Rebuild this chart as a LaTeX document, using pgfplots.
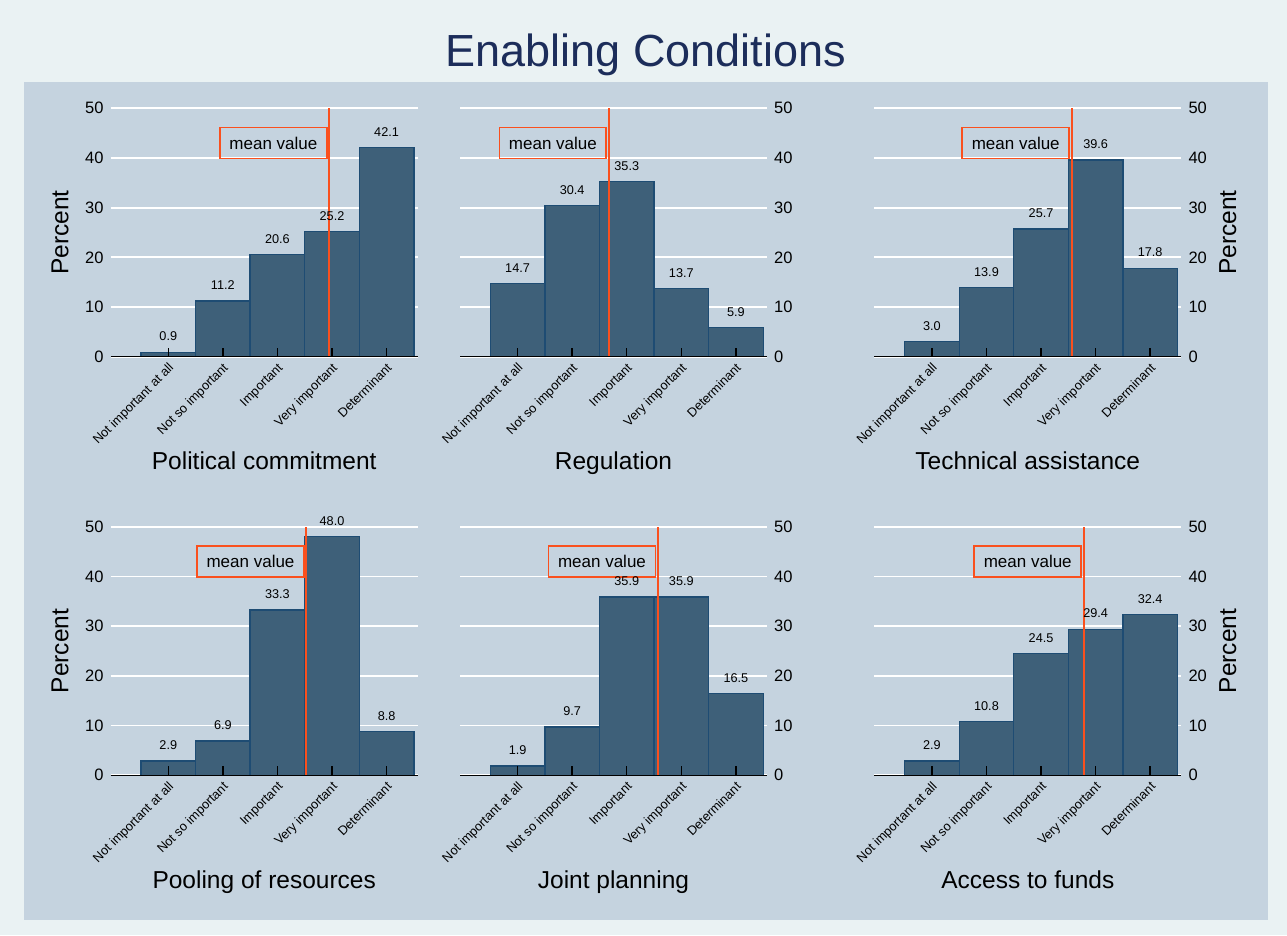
\documentclass[border=0pt]{standalone}
\usepackage{fontspec}
\setmainfont{Liberation Sans}
\usepackage{pgfplots}
\pgfplotsset{compat=1.18}

\definecolor{outerbg}{RGB}{234,242,243}
\definecolor{innerbg}{RGB}{197,211,223}
\definecolor{barfill}{RGB}{62,96,121}
\definecolor{baredge}{RGB}{30,76,115}
\definecolor{meanred}{RGB}{250,80,30}
\definecolor{titleblue}{RGB}{28,45,90}

\newcommand\fs[1]{\fontsize{#1}{#1}\selectfont}

\pgfplotsset{
  /pgf/number format/assume math mode=true,
  panel/.style={scale only axis, width=307pt, height=248.4pt,
    xmin=-0.055, xmax=5.57, ymin=0, ymax=50, anchor=south west},
  gridpanel/.style={panel, axis line style={draw=none}, xtick=\empty,
    ytick={0,10,...,50}, ymajorgrids, major grid style={white, line width=1.7pt},
    tick style={draw=none}, major tick length=0pt,
    yticklabel style={font=\fs{16.5}, inner xsep=7pt},
    ylabel style={font=\fs{24.5}}},
  % ylabel is rotated by 90, so its yshift moves it sideways
  leftp/.style={gridpanel, yticklabel pos=left,
    ylabel style={at={(axis description cs:0,0.5)}, anchor=center, yshift=50.7pt}},
  rightp/.style={gridpanel, yticklabel pos=right,
    ylabel style={at={(axis description cs:1,0.5)}, anchor=center, yshift=-46.5pt}},
  barpanel/.style={panel, axis on top, hide y axis, axis x line*=bottom,
    x axis line style={black, line width=1.5pt, -},
    xtick={1,...,5},
    xticklabels={Not important at all, Not so important, Important, Very important, Determinant},
    tick align=inside, major tick length=9pt, xtick style={black, line width=1.5pt},
    xticklabel style={font=\fs{12.8}, xshift=6pt, yshift=-12pt, rotate=45, anchor=base east, inner sep=0pt},
    xlabel style={at={(axis description cs:0.5,0)}, anchor=base, yshift=-113.3pt, font=\fs{24.5}}},
  bars/.style={ybar, bar width=1, fill=barfill, draw=baredge, line width=1.3pt,
    nodes near coords={\pgfmathprintnumber[fixed, fixed zerofill, precision=1]{\pgfplotspointmeta}},
    every node near coord/.append style={font=\fs{12.7}, anchor=south, inner sep=0pt, yshift=10.5pt, text=black}},
  meanline/.style={draw=meanred, line width=2pt, mark=none},
}
\tikzset{meanbox/.style={draw=meanred, line width=1.8pt, anchor=east, xshift=-1.5pt,
  font=\fs{17}, inner xsep=9.5pt, inner ysep=0pt, minimum height=31pt, text=black}}

\begin{document}
\begin{tikzpicture}
\fill[outerbg] (0pt,0pt) rectangle (1287pt,935pt);
\fill[innerbg] (24pt,15pt) rectangle (1268pt,853pt);
\node[anchor=base, font=\fs{45}, text=titleblue] at (646pt,868.3pt) {Enabling Conditions};

% top row
\begin{axis}[leftp, at={(110.7pt,578.3pt)}, ylabel={Percent}]\end{axis}
\begin{axis}[barpanel, at={(110.7pt,578.3pt)}, xlabel={Political commitment}]
\addplot[bars] coordinates {(1,0.9) (2,11.2) (3,20.6) (4,25.2) (5,42.1)};
\addplot[meanline] coordinates {(3.95,0) (3.95,50)};
\node[meanbox] at (axis cs:3.95,43) {mean value};
\end{axis}

\begin{axis}[rightp, at={(460pt,578.3pt)}]\end{axis}
\begin{axis}[barpanel, at={(460pt,578.3pt)}, xlabel={Regulation}]
\addplot[bars] coordinates {(1,14.7) (2,30.4) (3,35.3) (4,13.7) (5,5.9)};
\addplot[meanline] coordinates {(2.67,0) (2.67,50)};
\node[meanbox] at (axis cs:2.67,43) {mean value};
\end{axis}

\begin{axis}[rightp, at={(874.3pt,578.3pt)}, ylabel={Percent}]\end{axis}
\begin{axis}[barpanel, at={(874.3pt,578.3pt)}, xlabel={Technical assistance}]
\addplot[bars] coordinates {(1,3.0) (2,13.9) (3,25.7) (4,39.6) (5,17.8)};
\addplot[meanline] coordinates {(3.56,0) (3.56,50)};
\node[meanbox] at (axis cs:3.56,43) {mean value};
\end{axis}

% bottom row
\begin{axis}[leftp, at={(110.7pt,159.7pt)}, ylabel={Percent}]\end{axis}
\begin{axis}[barpanel, at={(110.7pt,159.7pt)}, xlabel={Pooling of resources}]
\addplot[bars] coordinates {(1,2.9) (2,6.9) (3,33.3) (4,48.0) (5,8.8)};
\addplot[meanline] coordinates {(3.53,0) (3.53,50)};
\node[meanbox] at (axis cs:3.53,43) {mean value};
\end{axis}

\begin{axis}[rightp, at={(460pt,159.7pt)}]\end{axis}
\begin{axis}[barpanel, at={(460pt,159.7pt)}, xlabel={Joint planning}]
\addplot[bars] coordinates {(1,1.9) (2,9.7) (3,35.9) (4,35.9) (5,16.5)};
\addplot[meanline] coordinates {(3.57,0) (3.57,50)};
\node[meanbox] at (axis cs:3.57,43) {mean value};
\end{axis}

\begin{axis}[rightp, at={(874.3pt,159.7pt)}, ylabel={Percent}]\end{axis}
\begin{axis}[barpanel, at={(874.3pt,159.7pt)}, xlabel={Access to funds}]
\addplot[bars] coordinates {(1,2.9) (2,10.8) (3,24.5) (4,29.4) (5,32.4)};
\addplot[meanline] coordinates {(3.78,0) (3.78,50)};
\node[meanbox] at (axis cs:3.78,43) {mean value};
\end{axis}
\end{tikzpicture}
\end{document}
